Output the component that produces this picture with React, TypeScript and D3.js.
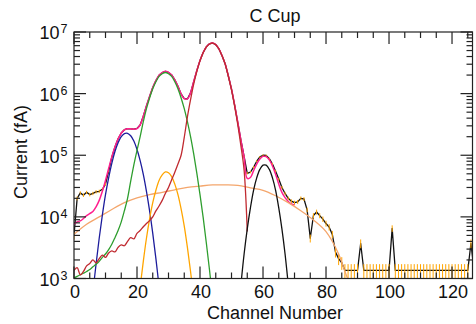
import React from "react";
import * as d3 from "d3";

// measured current (fA) for channels 0..127
const dataCurrent = [
  5.0e3, 2.0e4, 2.45e4, 2.25e4, 2.5e4, 2.3e4, 2.4e4, 2.55e4, 2.6e4, 2.8e4,
  3.4e4, 5.5e4, 9.3e4, 1.36e5, 1.85e5, 2.3e5, 2.6e5, 2.7e5, 2.68e5, 2.65e5,
  2.72e5, 3.1e5, 4.3e5, 6.3e5, 9.0e5, 1.26e6, 1.63e6, 1.98e6, 2.19e6, 2.3e6,
  2.21e6, 2.01e6, 1.67e6, 1.32e6, 9.9e5, 8.3e5, 8.2e5, 1.03e6, 1.57e6, 2.38e6,
  3.46e6, 4.64e6, 5.74e6, 6.43e6, 6.63e6, 6.23e6, 5.33e6, 4.13e6, 3.03e6, 1.93e6,
  1.18e6, 6.5e5, 3.4e5, 1.75e5, 9.6e4, 5.1e4, 5.3e4, 6.4e4, 8.0e4, 9.4e4,
  1.0e5, 9.9e4, 8.8e4, 7.2e4, 5.5e4, 4.1e4, 3.0e4, 2.4e4, 2.0e4, 1.8e4,
  1.7e4, 1.75e4, 2.0e4, 1.95e4, 1.3e4, 4.5e3, 1.05e4, 1.2e4, 1.05e4, 9.2e3,
  7.8e3, 6.8e3, 5.2e3, 2.7e3, 2.1e3, 1.8e3, 1.35e3, 1.35e3, 1.35e3, 1.35e3,
  1.35e3, 3.7e3, 1.35e3, 1.35e3, 1.35e3, 1.35e3, 1.35e3, 1.35e3, 1.35e3, 1.35e3,
  1.35e3, 6.5e3, 1.35e3, 1.35e3, 1.35e3, 1.35e3, 1.35e3, 1.35e3, 1.35e3, 1.35e3,
  1.35e3, 1.35e3, 1.35e3, 1.35e3, 1.35e3, 1.35e3, 1.35e3, 1.35e3, 1.35e3, 1.35e3,
  1.35e3, 1.35e3, 1.35e3, 1.35e3, 1.35e3, 1.35e3, 3.7e3, 1.35e3,
];

// uncertainty of each measured channel (fA)
const dataError = [
  700, 1400, 1500, 1500, 1500, 1500, 1500, 1600, 1600, 1600,
  1800, 2300, 3000, 3600, 4200, 4700, 5000, 5100, 5100, 5000,
  5100, 5500, 6400, 7800, 9300, 11000, 12500, 13800, 14500, 14900,
  14600, 13900, 12700, 11300, 9700, 8900, 8900, 9900, 12300, 15100,
  18200, 21100, 23500, 24800, 25200, 24500, 22600, 19900, 17100, 13600,
  10600, 7900, 5700, 4100, 3000, 2200, 2300, 2500, 2800, 3000,
  3100, 3100, 2900, 2600, 2300, 2000, 1700, 1500, 1400, 1300,
  1300, 1300, 1400, 1400, 1100, 660, 1000, 1100, 1000, 940,
  870, 810, 710, 510, 450, 420, 360, 360, 360, 360,
  360, 600, 360, 360, 360, 360, 360, 360, 360, 360,
  360, 790, 360, 360, 360, 360, 360, 360, 360, 360,
  360, 360, 360, 360, 360, 360, 360, 360, 360, 360,
  360, 360, 360, 360, 360, 360, 600, 360,
];

// total fit, channels 0..70
const totalFit = [
  7.6e3, 8.3e3, 8.6e3, 9.4e3, 1.05e4, 1.13e4, 1.22e4, 1.45e4, 1.85e4, 2.6e4,
  3.9e4, 6.1e4, 9.4e4, 1.36e5, 1.84e5, 2.28e5, 2.58e5, 2.69e5, 2.68e5, 2.64e5,
  2.7e5, 3.1e5, 4.29e5, 6.3e5, 9.0e5, 1.26e6, 1.63e6, 1.98e6, 2.19e6, 2.3e6,
  2.21e6, 2.01e6, 1.67e6, 1.32e6, 9.9e5, 8.3e5, 8.2e5, 1.03e6, 1.57e6, 2.38e6,
  3.46e6, 4.64e6, 5.74e6, 6.43e6, 6.63e6, 6.23e6, 5.33e6, 4.13e6, 3.03e6, 1.93e6,
  1.18e6, 6.5e5, 3.4e5, 1.73e5, 9.2e4, 4.2e4, 4.35e4, 5.6e4, 7.2e4, 8.7e4,
  9.6e4, 9.5e4, 8.4e4, 6.7e4, 4.9e4, 3.4e4, 2.5e4, 2.05e4, 1.78e4, 1.62e4,
  1.55e4,
];

// broad background component
const broadCh = [0, 4, 8, 12, 16, 20, 24, 28, 32, 36, 40, 44, 48, 52, 56, 60, 64, 68, 72, 76, 80, 84, 86, 88];
const broadFit = [
  5.2e3, 7.6e3, 1.0e4, 1.32e4, 1.7e4, 2.04e4, 2.3e4, 2.5e4, 2.75e4, 3.0e4, 3.16e4, 3.3e4,
  3.3e4, 3.24e4, 2.95e4, 2.7e4, 2.2e4, 1.7e4, 1.26e4, 8.9e3, 5.75e3, 2.5e3, 1.3e3, 7.1e2,
];

const blueStart = 6;
const blueFit = [
  6.0e2, 1.7e3, 4.5e3, 1.07e4, 2.3e4, 4.3e4, 7.4e4, 1.15e5, 1.6e5, 2.0e5, 2.25e5,
  2.27e5, 2.07e5, 1.7e5, 1.24e5, 8.2e4, 4.9e4, 2.6e4, 1.25e4, 5.4e3, 2.1e3, 7.4e2,
];

const orangeStart = 20;
const orangeFit = [
  2.5e2, 7.3e2, 1.9e3, 4.5e3, 9.3e3, 1.7e4, 2.7e4, 3.9e4, 4.8e4, 5.35e4,
  5.2e4, 4.5e4, 3.4e4, 2.3e4, 1.35e4, 7.1e3, 3.2e3, 1.3e3, 4.8e2,
];

const greenStart = 0;
const greenFit = [
  1.02e3, 1.08e3, 1.15e3, 1.22e3, 1.3e3, 1.4e3, 1.55e3, 1.7e3, 1.9e3, 2.2e3,
  2.5e3, 2.95e3, 3.6e3, 4.6e3, 6.0e3, 8.3e3, 1.26e4, 2.0e4, 3.8e4, 7.0e4,
  1.2e5, 2.0e5, 3.5e5, 5.7e5, 8.5e5, 1.2e6, 1.56e6, 1.9e6, 2.1e6, 2.2e6,
  2.1e6, 1.9e6, 1.56e6, 1.2e6, 8.5e5, 5.7e5, 3.5e5, 2.0e5, 1.05e5, 5.1e4,
  2.3e4, 9.8e3, 3.8e3, 1.4e3, 4.7e2,
];

const redStart = 0;
const redFit = [
  1.35e3, 1.5e3, 1.15e3, 1.3e3, 1.6e3, 1.75e3, 2.0e3, 1.8e3, 2.1e3, 2.4e3,
  2.2e3, 2.6e3, 2.8e3, 2.7e3, 3.2e3, 3.5e3, 3.4e3, 4.0e3, 4.6e3, 4.4e3,
  5.4e3, 6.0e3, 6.9e3, 7.8e3, 8.7e3, 1.0e4, 1.25e4, 1.5e4, 1.85e4, 2.4e4,
  3.0e4, 4.0e4, 5.3e4, 7.2e4, 1.0e5, 1.95e5, 4.2e5, 8.0e5, 1.43e6, 2.3e6,
  3.4e6, 4.6e6, 5.7e6, 6.4e6, 6.6e6, 6.2e6, 5.3e6, 4.1e6, 3.0e6, 1.9e6,
  1.15e6, 6.2e5, 3.1e5, 1.4e5, 5.7e4, 5.8e3,
];

const bumpStart = 53;
const bumpFit = [
  8.1e2, 2.5e3, 6.4e3, 1.4e4, 2.7e4, 4.3e4, 5.9e4, 6.9e4,
  6.9e4, 5.9e4, 4.3e4, 2.7e4, 1.4e4, 6.4e3, 2.5e3, 8.1e2,
];

const xTicks = [0, 20, 40, 60, 80, 100, 120];
const yDecades = [3, 4, 5, 6, 7];

const left = 74;
const right = 472.5;
const top = 32;
const bottom = 278.5;
const font = "'Liberation Sans', Arial, Helvetica, sans-serif";

export default function App() {
  const x = d3.scaleLinear().domain([0, 126.5]).range([left, right]);
  const y = d3.scaleLog().domain([1e3, 1e7]).range([bottom, top]);

  const smooth = d3
    .line<[number, number]>()
    .x((d) => x(d[0]))
    .y((d) => y(d[1]))
    .curve(d3.curveCatmullRom);
  const straight = d3
    .line<[number, number]>()
    .x((d) => x(d[0]))
    .y((d) => y(d[1]));

  const pts = (start: number, vals: number[]) =>
    vals.map((v, i) => [start + i, v] as [number, number]);

  const minorX = d3.range(0, 127, 5).filter((v) => v % 20 !== 0);
  const minorY: number[] = [];
  [3, 4, 5, 6].forEach((d) => {
    for (let m = 2; m <= 9; m++) minorY.push(m * Math.pow(10, d));
  });

  const axisColor = "#222";

  return (
    <svg
      width={476}
      height={324}
      style={{ position: "absolute", left: 0, top: 0, background: "#fff" }}
      fontFamily={font}
    >
      <defs>
        <clipPath id="plot">
          <rect x={left} y={top} width={right - left} height={bottom - top} />
        </clipPath>
      </defs>

      <g clipPath="url(#plot)" fill="none" strokeLinejoin="round">
        {/* measured data */}
        <path d={straight(pts(0, dataCurrent)) || ""} stroke="#111" strokeWidth={1.3} />
        {dataCurrent.map((v, i) => (
          <line
            key={i}
            x1={x(i)}
            x2={x(i)}
            y1={y(v + dataError[i])}
            y2={y(Math.max(v - dataError[i], 500))}
            stroke="#ffa500"
            strokeWidth={1}
          />
        ))}
        {/* total fit */}
        <path d={smooth(pts(0, totalFit)) || ""} stroke="#ff1f8e" strokeWidth={1.5} />
        {/* components */}
        <path
          d={smooth(broadCh.map((c, i) => [c, broadFit[i]] as [number, number])) || ""}
          stroke="#f4a66c"
          strokeWidth={1.3}
        />
        <path d={smooth(pts(blueStart, blueFit)) || ""} stroke="#1c1c9c" strokeWidth={1.3} />
        <path d={smooth(pts(orangeStart, orangeFit)) || ""} stroke="#ffa500" strokeWidth={1.3} />
        <path d={smooth(pts(greenStart, greenFit)) || ""} stroke="#2e9e2e" strokeWidth={1.3} />
        <path d={smooth(pts(redStart, redFit)) || ""} stroke="#c02a30" strokeWidth={1.3} />
        <path d={smooth(pts(bumpStart, bumpFit)) || ""} stroke="#111" strokeWidth={1.3} />
      </g>

      {/* frame */}
      <rect
        x={left}
        y={top}
        width={right - left}
        height={bottom - top}
        fill="none"
        stroke={axisColor}
        strokeWidth={1.2}
      />

      {/* ticks on all four sides */}
      <g stroke={axisColor} strokeWidth={1.2}>
        {xTicks.map((t) => (
          <g key={t}>
            <line x1={x(t)} x2={x(t)} y1={bottom} y2={bottom - 12} />
            <line x1={x(t)} x2={x(t)} y1={top} y2={top + 12} />
          </g>
        ))}
        {minorX.map((t) => (
          <g key={t}>
            <line x1={x(t)} x2={x(t)} y1={bottom} y2={bottom - 6} />
            <line x1={x(t)} x2={x(t)} y1={top} y2={top + 6} />
          </g>
        ))}
        {yDecades.map((d) => (
          <g key={d}>
            <line x1={left} x2={left + 12} y1={y(Math.pow(10, d))} y2={y(Math.pow(10, d))} />
            <line x1={right} x2={right - 12} y1={y(Math.pow(10, d))} y2={y(Math.pow(10, d))} />
          </g>
        ))}
        {minorY.map((v) => (
          <g key={v}>
            <line x1={left} x2={left + 6} y1={y(v)} y2={y(v)} />
            <line x1={right} x2={right - 6} y1={y(v)} y2={y(v)} />
          </g>
        ))}
      </g>

      {/* tick labels */}
      <g fontSize={18} fill="#111">
        {xTicks.map((t) => (
          <text key={t} x={x(t) + 1} y={298} textAnchor="middle">
            {t}
          </text>
        ))}
        {yDecades.map((d) => (
          <g key={d}>
            <text x={59.5} y={y(Math.pow(10, d)) + 7.3} textAnchor="end">
              10
            </text>
            <text x={60.5} y={y(Math.pow(10, d)) + 1} fontSize={12.5}>
              {d}
            </text>
          </g>
        ))}
      </g>

      {/* titles */}
      <text x={275} y={21.5} textAnchor="middle" fontSize={18} fill="#111">
        C Cup
      </text>
      <text x={275} y={318.5} textAnchor="middle" fontSize={18} fill="#111">
        Channel Number
      </text>
      <text
        transform={`translate(27,152) rotate(-90)`}
        textAnchor="middle"
        fontSize={18}
        fill="#111"
      >
        Current (fA)
      </text>
    </svg>
  );
}
